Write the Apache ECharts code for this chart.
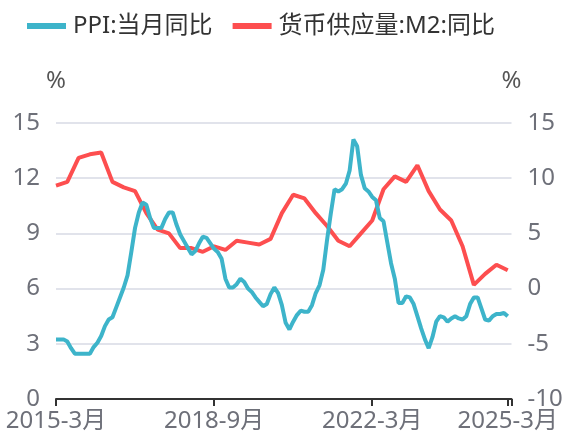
<!DOCTYPE html>
<html>
<head>
<meta charset="utf-8">
<script src="https://cdn.jsdelivr.net/npm/echarts@6/dist/echarts.min.js"></script>
<style>
  html, body { margin: 0; padding: 0; background: #fff; }
  #chart { width: 568px; height: 441px; }
</style>
</head>
<body>
<div id="chart"></div>
<script>
// Monthly categories 2015-3 .. 2025-4
const categories = [];
for (let y = 2015; y <= 2025; y++) {
  for (let m = 1; m <= 12; m++) {
    if (y === 2015 && m < 3) continue;
    if (y === 2025 && m > 4) break;
    categories.push(y + '-' + m + '月');
  }
}

// Tick labels shown on the x axis
const xLabelShown = ['2015-3月', '2018-9月', '2022-3月', '2025-3月'];
const xTickShown = ['2015-3月', '2018-9月', '2022-3月', '2025-3月', '2025-4月'];

// PPI: 当月同比 (monthly, 2015-3 .. 2025-3), right axis
const ppi = [
  -4.6, -4.6, -4.6, -4.8, -5.4, -5.9, -5.9, -5.9, -5.9, -5.9,
  -5.3, -4.9, -4.3, -3.4, -2.8, -2.6, -1.7, -0.8, 0.1, 1.2, 3.3, 5.5,
  6.9, 7.8, 7.6, 6.4, 5.5, 5.5, 5.5, 6.3, 6.9, 6.9, 5.8, 4.9,
  4.3, 3.7, 3.1, 3.4, 4.1, 4.7, 4.6, 4.1, 3.6, 3.3, 2.7, 0.9,
  0.1, 0.1, 0.4, 0.9, 0.6, 0.0, -0.3, -0.8, -1.2, -1.6, -1.4, -0.5,
  0.1, -0.4, -1.5, -3.1, -3.7, -3.0, -2.4, -2.0, -2.1, -2.1, -1.5, -0.4,
  0.3, 1.7, 4.4, 6.8, 9.0, 8.8, 9.0, 9.5, 10.7, 13.5, 12.9, 10.3,
  9.1, 8.8, 8.3, 8.0, 6.4, 6.1, 4.2, 2.3, 0.9, -1.3, -1.3, -0.7,
  -0.8, -1.4, -2.5, -3.6, -4.6, -5.4, -4.4, -3.0, -2.5, -2.6, -3.0, -2.7,
  -2.5, -2.7, -2.8, -2.5, -1.4, -0.8, -0.8, -1.8, -2.8, -2.9, -2.5, -2.3,
  -2.3, -2.2, -2.5
];

// 货币供应量:M2:同比 (quarterly), left axis
const m2Months = [
  '2015-3月', '2015-6月', '2015-9月', '2015-12月',
  '2016-3月', '2016-6月', '2016-9月', '2016-12月',
  '2017-3月', '2017-6月', '2017-9月', '2017-12月',
  '2018-3月', '2018-6月', '2018-9月', '2018-12月',
  '2019-3月', '2019-6月', '2019-9月', '2019-12月',
  '2020-3月', '2020-6月', '2020-9月', '2020-12月',
  '2021-3月', '2021-6月', '2021-9月', '2021-12月',
  '2022-3月', '2022-6月', '2022-9月', '2022-12月',
  '2023-3月', '2023-6月', '2023-9月', '2023-12月',
  '2024-3月', '2024-6月', '2024-9月', '2024-12月',
  '2025-3月'
];
const m2Values = [
  11.6, 11.8, 13.1, 13.3,
  13.4, 11.8, 11.5, 11.3,
  10.1, 9.2, 9.0, 8.2,
  8.2, 8.0, 8.3, 8.1,
  8.6, 8.5, 8.4, 8.7,
  10.1, 11.1, 10.9, 10.1,
  9.4, 8.6, 8.3, 9.0,
  9.7, 11.4, 12.1, 11.8,
  12.7, 11.3, 10.3, 9.7,
  8.3, 6.2, 6.8, 7.3,
  7.0
];

const leftAxis = { min: 0, max: 15, interval: 3 };
const rightAxis = { min: -10, max: 15, interval: 5 };

const seriesNames = ['PPI:当月同比', '货币供应量:M2:同比'];
const colors = ['#3db4ca', '#fd4e4f'];

const m2Data = categories.map(c => {
  const i = m2Months.indexOf(c);
  return i >= 0 ? m2Values[i] : null;
});

const FONT = '"Noto Sans", "Noto Sans CJK SC", sans-serif';
const labelColor = '#6e7079';

const chart = echarts.init(document.getElementById('chart'), null, { renderer: 'canvas' });
chart.setOption({
  animation: false,
  backgroundColor: '#fff',
  color: colors,
  textStyle: { fontFamily: FONT },
  legend: {
    left: 22,
    top: 9,
    itemWidth: 39,
    itemHeight: 6,
    itemGap: 20,
    icon: 'rect',
    textStyle: { fontSize: 24, color: '#333', fontFamily: FONT, padding: [0, 0, 0, 2] },
    data: seriesNames
  },
  grid: {
    left: 56,
    right: 56.5,
    top: 123,
    bottom: 42,
    containLabel: false,
    outerBoundsMode: 'none'
  },
  xAxis: {
    type: 'category',
    data: categories,
    boundaryGap: false,
    axisLine: { show: true, lineStyle: { color: '#333', width: 2 } },
    axisTick: {
      show: true,
      length: 7,
      lineStyle: { color: '#333', width: 2 },
      interval: (idx, val) => xTickShown.indexOf(val) >= 0
    },
    axisLabel: {
      color: labelColor,
      fontSize: 24,
      fontFamily: FONT,
      margin: 10,
      interval: (idx, val) => xLabelShown.indexOf(val) >= 0
    },
    splitLine: { show: false }
  },
  yAxis: [
    {
      type: 'value',
      min: leftAxis.min, max: leftAxis.max, interval: leftAxis.interval,
      name: '%',
      nameLocation: 'end',
      nameGap: 30,
      nameTextStyle: { color: '#555', fontSize: 24, fontFamily: FONT, align: 'center' },
      axisLine: { show: false },
      axisTick: { show: false },
      axisLabel: { color: labelColor, fontSize: 24, fontFamily: FONT, margin: 16 },
      splitLine: { show: true, lineStyle: { color: '#d7dae4', width: 1.5 } }
    },
    {
      type: 'value',
      min: rightAxis.min, max: rightAxis.max, interval: rightAxis.interval,
      name: '%',
      nameLocation: 'end',
      nameGap: 30,
      nameTextStyle: { color: '#555', fontSize: 24, fontFamily: FONT, align: 'center' },
      axisLine: { show: false },
      axisTick: { show: false },
      axisLabel: { color: labelColor, fontSize: 24, fontFamily: FONT, margin: 16 },
      splitLine: { show: false }
    }
  ],
  series: [
    {
      name: seriesNames[0],
      type: 'line',
      yAxisIndex: 1,
      data: ppi,
      showSymbol: false,
      symbol: 'none',
      lineStyle: { width: 4, color: colors[0] },
      itemStyle: { color: colors[0] },
      z: 3
    },
    {
      name: seriesNames[1],
      type: 'line',
      yAxisIndex: 0,
      data: m2Data,
      connectNulls: true,
      showSymbol: false,
      symbol: 'none',
      lineStyle: { width: 4, color: colors[1] },
      itemStyle: { color: colors[1] },
      z: 2
    }
  ]
});
</script>
</body>
</html>
